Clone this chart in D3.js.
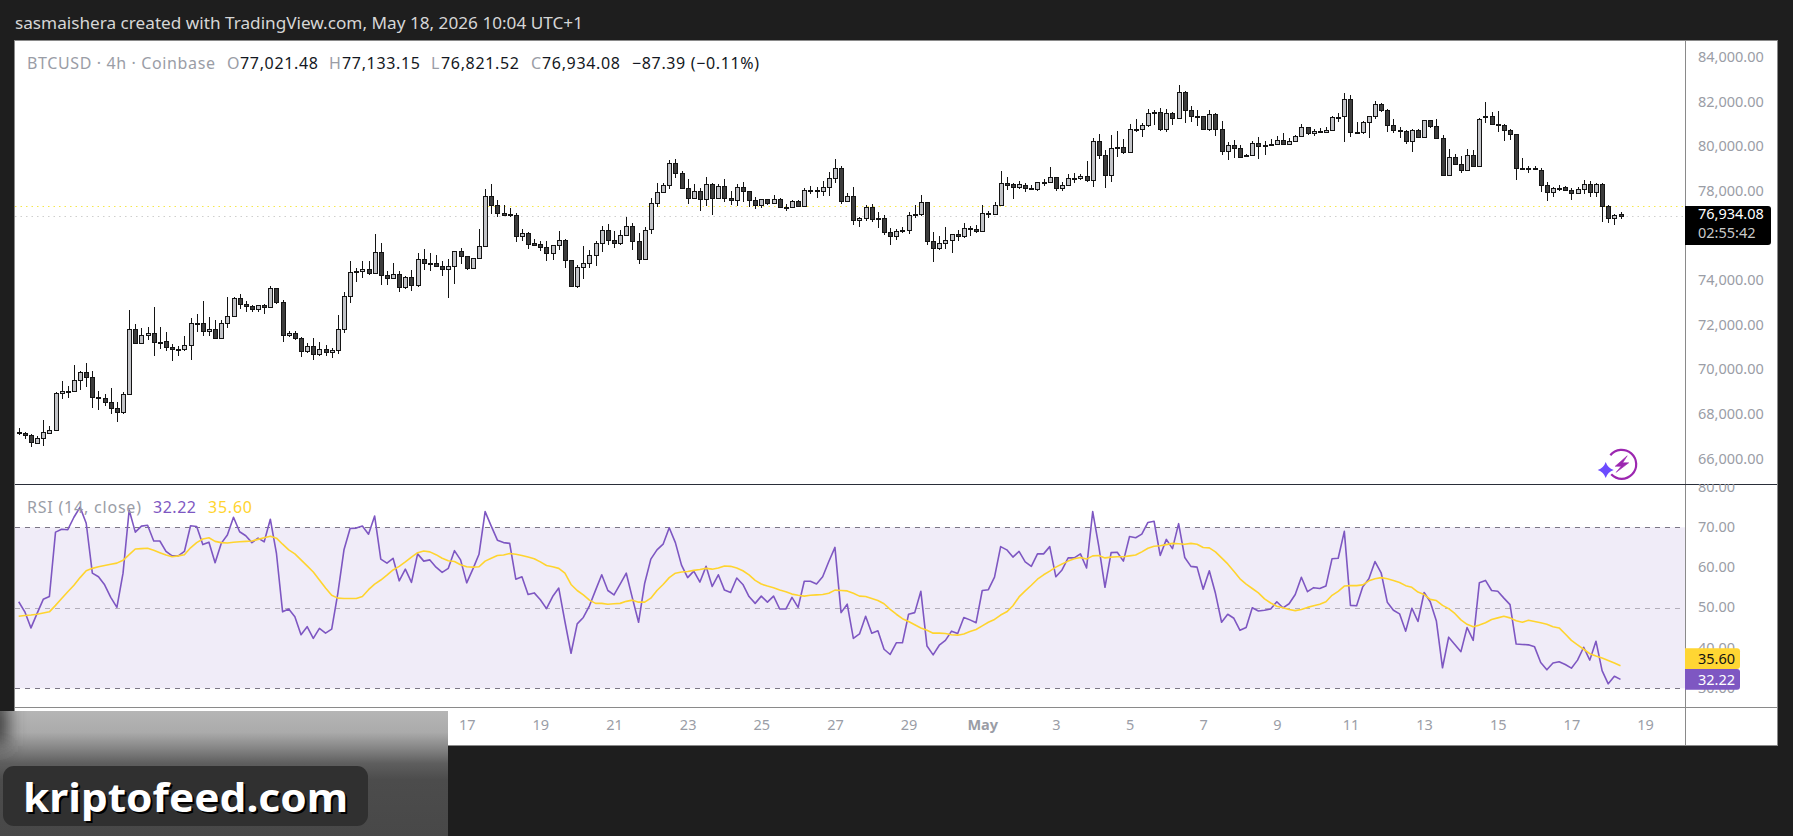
<!DOCTYPE html>
<html><head><meta charset="utf-8">
<style>
html,body{margin:0;padding:0;background:#1e1e1e;overflow:hidden}
svg{display:block}
text{font-family:"Noto Sans",sans-serif}
</style>
<script src="https://cdnjs.cloudflare.com/ajax/libs/d3/7.8.5/d3.min.js"></script>
</head><body>
<svg id="chart" width="1793" height="836"></svg>
<script>
// BTCUSD 4h candles, oldest first
const opens=[
67250,67240,67120,66790,66980,67240,67340,69000,69080,69090,
69580,69940,69720,68830,68780,68600,68330,68150,68960,71870,
71240,71600,71690,71300,71330,71060,70970,70970,71150,72130,
72140,71780,71870,71460,72140,72450,73260,72990,72900,72760,
72940,72850,73710,73080,71600,71690,71460,70880,71110,70750,
70970,70840,70930,71870,73350,74430,74470,74560,74380,75320,
74290,74150,74330,73750,74200,73840,75000,74830,74860,74690,
74560,74690,75360,75140,74600,75050,75590,77830,77430,77070,
77010,76980,76040,76170,75720,75710,75540,75270,75630,75860,
74960,73800,74650,74830,75180,75720,76300,75860,75720,76080,
76480,75810,75010,76350,77520,78010,78320,79310,78860,78190,
77740,78050,77690,78370,77740,78280,77740,77650,78230,78050,
77650,77430,77690,77520,77690,77340,77340,77600,77380,78090,
78100,78050,78230,78640,79080,77600,77830,76750,76840,77340,
76840,76840,76220,76040,76290,76300,76980,77020,77560,75840,
75500,75720,75860,76130,76040,76400,76350,76260,77060,77050,
77420,78410,78370,78230,78350,78190,78140,78450,78460,78680,
78190,78320,78630,78640,78730,78550,80290,79670,78770,79980,
80030,79830,80830,80830,81010,81590,81590,80860,81550,81320,
82490,81680,81420,81410,80830,81500,80830,79850,80120,79980,
79650,79670,80200,80120,80150,80160,80340,80190,80290,80520,
80920,80650,80750,80700,80790,81380,81410,82180,80690,80700,
81150,81410,81950,81680,81010,80790,80740,80290,80790,80470,
81240,80970,80430,78770,79580,79260,78990,79670,79170,81420,
81410,81060,81010,80790,80610,79080,79080,79080,78990,78320,
78010,78200,78230,78100,77960,78140,78370,78010,78370,77380,
76840,77021.48];
const highs=[
67430,67280,67180,67100,67800,67530,69070,69550,69330,70270,
69990,70360,70000,69100,68970,69240,68600,69040,72730,72110,
71910,71960,72850,71970,71730,71210,71120,71570,72360,72540,
73120,72410,72270,72270,73300,73330,73440,73120,72960,72940,
73000,73800,73740,73170,71780,71780,71510,71240,71460,71290,
71150,71020,72510,73530,74930,74620,74930,74930,76140,75740,
74470,74840,74470,74240,74530,75270,75470,75270,75200,74930,
75020,75390,75500,75140,75070,76370,78140,78370,77670,77430,
77290,77070,76370,76220,75900,75840,75830,75630,76260,75920,
74960,74740,75600,75410,75810,76480,76570,76280,76300,76900,
76620,76170,76440,77740,78410,78440,79440,79500,78950,78590,
78370,78190,78680,78410,78370,78590,78070,78370,78470,78050,
77780,77690,77690,77890,77740,77470,77650,77650,78190,78280,
78230,78520,78920,79500,79170,77960,78230,76890,77430,77470,
77110,76980,76400,76350,76440,77110,77420,77870,77560,76220,
76040,76440,76130,76310,76620,76480,76530,77420,77170,77560,
78950,78680,78440,78500,78410,78350,78470,78590,79130,78710,
78460,78830,78880,78820,79400,80430,80610,79900,80560,80740,
80380,81060,81280,81100,81730,81680,81770,81730,81620,82820,
82550,81860,81680,81440,81680,81550,81190,80250,80340,80120,
79730,80290,80470,80290,80380,80530,80650,80430,80560,81060,
80920,80830,80880,80920,81410,81550,82460,82360,81150,81190,
81410,82090,82030,81730,81280,80950,80800,80830,80830,81240,
81240,81280,80560,79930,79710,79620,79930,79890,81320,82040,
81590,81640,81060,80830,80610,79530,79170,79170,79080,78460,
78260,78340,78280,78190,78230,78550,78500,78410,78410,77430,
77020,77133.15];
const lows=[
67130,66970,66610,66790,66650,67160,67340,68760,68800,69090,
69150,69300,68360,68270,68450,68090,67730,68090,68960,71240,
71240,71390,70690,71000,70910,70460,70690,70880,70510,71750,
71580,71580,71460,71460,71910,72450,72790,72660,72650,72660,
72570,72850,72990,71310,71510,71400,70640,70820,70510,70660,
70690,70600,70780,71720,73060,74000,74170,74320,74330,73860,
73860,74150,73540,73690,73590,73780,74530,74500,74650,74260,
73290,73920,74810,74540,74600,75050,75590,77050,76920,77000,
76900,75800,75840,75480,75620,75390,74950,74990,75420,74630,
73800,73740,74140,74630,74720,75350,75660,75530,75650,76080,
75420,74800,75010,76160,77350,77980,78140,78650,78190,77490,
77740,77170,77400,77010,77690,77580,77440,77400,77590,77370,
77260,77320,77440,77520,77320,77190,77340,77340,77370,77930,
77750,77840,77840,78440,77500,77600,76540,76450,76740,76690,
76410,76110,75650,75870,76200,76160,76870,76960,75650,74900,
75440,75480,75300,75840,75980,76070,76170,76240,76870,76990,
77410,78110,77720,78170,78040,78100,78080,78310,78460,78080,
78080,78320,78410,78560,78490,78260,79490,78220,78490,79610,
79740,79800,80710,80500,80950,81030,80770,80730,81030,81310,
81130,81180,81000,80830,80740,80550,79680,79470,79560,79580,
79610,79670,79520,79700,80090,80130,80140,80140,80250,80470,
80590,80550,80650,80700,80790,81150,80280,80500,80650,80610,
80430,81310,81610,80710,80650,80460,80160,79830,80430,80430,
80880,80430,78770,78720,79220,78890,78950,79170,79170,81100,
81060,80730,80320,80370,78580,79020,78890,78990,78040,77630,
77810,78070,78070,77660,77950,77950,77810,77810,76690,76630,
76540,76821.52];
const closes=[
67240,67120,66800,66980,67250,67340,69000,69090,69100,69580,
69940,69720,68820,68780,68600,68330,68150,68960,71870,71240,
71600,71690,71290,71320,71060,70970,70990,71150,72140,72140,
71780,71870,71460,72140,72450,73260,72990,72900,72760,72940,
72850,73710,73080,71600,71690,71460,70880,71110,70750,70970,
70840,70930,71870,73350,74420,74480,74560,74380,75320,74290,
74150,74330,73750,74200,73840,75000,74830,74860,74690,74560,
74690,75360,75140,74600,75050,75590,77830,77430,77070,77010,
77040,76040,76170,75680,75660,75540,75270,75630,75860,74960,
73800,74650,74830,75180,75720,76300,75860,75720,76080,76480,
75810,75010,76300,77520,78010,78320,79310,78860,78190,77740,
78050,77690,78370,77740,78280,77740,77650,78230,78050,77650,
77430,77690,77520,77690,77340,77350,77600,77380,78100,78100,
78110,78230,78640,79080,77600,77830,76750,76840,77340,76800,
76800,76220,76040,76290,76300,76980,77020,77560,75840,75500,
75720,75860,76130,76040,76400,76350,76260,77070,77040,77420,
78410,78350,78230,78370,78190,78140,78460,78460,78680,78190,
78320,78640,78640,78730,78550,80290,79670,78770,79980,80030,
79830,80830,80810,81010,81550,81550,80860,81550,81320,82490,
81680,81410,81410,80830,81500,80830,79850,80120,79980,79580,
79680,80200,80100,80130,80160,80340,80190,80290,80520,80920,
80650,80740,80760,80790,81370,81400,82180,80700,80700,81150,
81410,81950,81680,81010,80790,80740,80290,80790,80470,81240,
80970,80430,78770,79580,79260,78990,79670,79170,81280,81430,
81060,81070,80790,80610,79080,79090,79090,79090,78320,78010,
78190,78220,78100,77960,78140,78370,78010,78370,77380,76840,
76980,76934.08];

// RSI(14) and its moving average, one value per candle
const rsiValues=[
51.5,49.0,45.0,48.6,52.1,52.8,68.8,69.5,69.4,72.5,
75.0,71.0,58.6,57.7,55.7,52.6,50.1,58.6,74.3,68.8,
70.3,70.5,66.6,66.6,64.0,62.9,62.9,64.0,70.4,70.2,
65.7,66.3,61.2,66.0,68.1,72.5,68.9,67.9,66.2,67.3,
66.4,72.0,63.5,49.0,49.7,47.8,43.3,45.3,42.4,44.9,
43.7,44.7,53.6,64.4,69.7,69.8,70.3,68.3,72.8,62.1,
61.1,62.3,56.7,59.6,56.3,63.4,61.6,61.9,60.1,58.8,
59.8,64.2,61.9,56.2,59.6,63.3,73.9,70.3,66.8,66.2,
66.0,57.1,57.7,53.3,53.7,52.0,49.8,52.8,54.9,46.6,
38.7,46.0,47.6,50.5,54.4,58.2,54.3,53.2,55.9,58.6,
52.4,46.4,56.1,62.1,64.4,65.8,69.9,66.2,60.6,57.5,
59.1,56.4,60.3,55.3,58.2,54.4,53.8,57.4,55.8,52.8,
51.1,52.9,51.4,52.9,49.7,49.7,52.6,50.1,56.6,56.6,
55.9,57.7,61.5,65.0,48.8,50.9,42.4,43.5,47.9,43.7,
44.3,39.7,38.4,41.3,41.3,48.4,48.8,54.1,40.5,38.3,
40.7,41.9,44.2,43.6,47.6,47.0,46.3,54.3,54.5,57.6,
65.2,64.4,62.6,64.0,61.4,60.3,63.4,63.4,65.2,57.7,
59.4,62.4,62.4,63.4,59.9,73.9,65.2,55.1,63.7,63.8,
61.6,67.7,67.4,68.3,71.2,71.5,63.0,67.0,64.7,70.9,
62.5,60.3,60.1,54.6,59.2,53.6,46.4,48.4,47.4,44.4,
45.1,50.0,49.2,49.4,49.7,51.5,50.0,51.0,53.3,57.6,
54.0,55.0,54.8,55.4,62.2,62.3,69.0,50.6,50.5,55.2,
57.2,61.5,58.7,51.4,49.4,48.5,44.2,49.9,46.6,53.8,
51.5,46.7,35.1,42.7,40.9,39.1,45.1,41.9,56.2,56.8,
54.3,54.1,52.4,50.8,41.0,40.9,40.8,40.3,36.4,34.6,
36.3,36.6,35.9,35.0,37.0,40.2,37.0,41.7,34.4,31.1,
33.0,32.22];
const rsiAverage=[
47.9,48.1,48.2,48.4,48.7,49.0,50.6,52.3,54.0,55.6,
57.5,59.2,59.8,60.2,60.5,60.8,61.1,61.8,63.2,64.6,
64.7,64.8,64.3,63.7,63.1,62.7,62.9,63.2,64.9,66.2,
67.1,67.4,66.5,66.2,66.1,66.3,66.4,66.5,66.6,67.0,
67.4,67.8,67.3,65.8,64.4,63.4,61.9,60.4,58.9,56.9,
54.9,53.1,52.4,52.3,52.3,52.3,52.8,54.5,55.9,56.9,
58.1,59.4,60.3,61.4,62.6,63.7,64.1,63.9,63.2,62.3,
61.7,61.5,60.7,60.2,60.1,60.2,61.6,62.3,63.0,63.1,
63.5,63.3,63.0,62.6,62.2,61.4,60.5,60.2,59.8,58.6,
55.8,54.3,53.2,51.9,51.1,51.1,50.9,51.0,51.1,51.6,
51.9,51.4,51.4,52.4,54.3,55.8,57.5,58.6,58.9,59.0,
59.3,59.5,59.8,59.6,59.9,60.4,60.3,59.9,59.2,58.2,
56.8,55.9,55.4,55.0,54.4,54.0,53.4,53.1,52.9,53.1,
53.2,53.3,53.6,54.4,54.3,54.2,53.6,52.9,52.8,52.3,
51.8,51.0,49.6,48.4,47.3,46.6,45.8,45.0,44.4,43.7,
43.7,43.6,43.3,43.2,43.5,44.1,44.6,45.5,46.4,47.1,
48.2,49.0,50.5,52.7,54.2,55.6,57.1,58.2,59.1,60.1,
60.9,61.6,62.2,62.5,62.1,62.9,63.0,62.4,62.6,62.7,
62.7,62.9,63.1,63.9,64.8,65.3,65.4,65.7,66.0,65.9,
65.8,66.0,65.8,65.0,64.9,63.9,62.4,60.9,59.1,57.2,
55.9,54.8,53.7,52.2,51.2,50.4,50.0,49.6,49.3,49.6,
50.1,50.5,50.9,51.5,53.1,54.1,55.4,55.5,55.5,55.7,
56.7,57.2,57.5,57.2,56.8,56.3,55.5,55.1,53.9,53.3,
52.1,51.8,50.6,49.8,48.6,47.0,45.9,45.3,45.7,46.3,
47.1,47.5,47.9,47.5,46.8,46.4,46.9,46.6,46.3,45.9,
45.3,45.0,43.5,41.9,40.8,39.7,38.6,38.0,37.5,36.9,
36.3,35.6];

// 76,000 sits behind the last-price tag, so it is left out of the scale labels
const priceTicks=[66000,68000,70000,72000,74000,78000,80000,82000,84000];
const rsiTicks=[30,40,50,60,70,80];
const rsiGuides=[70,50,30];
const dayTicks=[[3,17,"17"],[3,19,"19"],[3,21,"21"],[3,23,"23"],[3,25,"25"],[3,27,"27"],[3,29,"29"],
  [4,1,"May"],[4,3,"3"],[4,5,"5"],[4,7,"7"],[4,9,"9"],[4,11,"11"],[4,13,"13"],[4,15,"15"],[4,17,"17"],[4,19,"19"]];
const lastClose=76934.08, lastRsi=32.22, lastAvg=35.60, priorOpenLevel=77380;

const HOUR=3600e3, t0=Date.UTC(2026,3,4,20);
const timeOf=i=>new Date(t0+i*4*HOUR);

const x=d3.scaleUtc().domain([timeOf(0),timeOf(261)]).range([18.7,1620.5]);
const yPrice=d3.scaleLinear().domain([66000,84000]).range([460.25,58.65]);
const yRsi=d3.scaleLinear().domain([30,70]).range([688.3,527.3]);

const svg=d3.select("#chart");
const defs=svg.append("defs");

const W={left:15,right:1777,top:41,bottom:745,axis:1685,divider:484,timeTop:707};
const GREY="#9a9da6", BORDER="#8a8a8a";

// frame
svg.append("text").attr("x",15).attr("y",28.5).attr("fill","#d6d6d6").attr("font-size",16.5)
  .attr("textLength",568).attr("lengthAdjust","spacingAndGlyphs")
  .text("sasmaishera created with TradingView.com, May 18, 2026 10:04 UTC+1");
svg.append("rect").attr("x",W.left).attr("y",W.top).attr("width",W.right-W.left).attr("height",W.bottom-W.top)
  .attr("fill","#fff");

defs.append("clipPath").attr("id","pricePane").append("rect").attr("x",W.left).attr("y",W.top).attr("width",W.axis-W.left).attr("height",W.divider-W.top);
defs.append("clipPath").attr("id","rsiPane").append("rect").attr("x",W.left).attr("y",W.divider).attr("width",W.axis-W.left).attr("height",W.timeTop-W.divider);
defs.append("clipPath").attr("id","rsiAxisPane").append("rect").attr("x",W.axis).attr("y",W.divider).attr("width",W.right-W.axis).attr("height",W.timeTop-W.divider);

// price pane: last-bar reference levels and candles
const pricePane=svg.append("g").attr("clip-path","url(#pricePane)");
[[priorOpenLevel,"#f6e84a"],[lastClose,"#cfcfcf"]].forEach(([v,c])=>{
  pricePane.append("line").attr("x1",W.left).attr("x2",W.axis)
    .attr("y1",Math.round(yPrice(v))+.5).attr("y2",Math.round(yPrice(v))+.5)
    .attr("stroke",c).attr("stroke-width",1).attr("stroke-dasharray","1.5 4");
});
const candles=d3.range(opens.length).map(i=>({t:timeOf(i),o:opens[i],h:highs[i],l:lows[i],c:closes[i]}));
const cx=d=>Math.round(x(d.t));
const cg=pricePane.append("g").attr("shape-rendering","crispEdges");
cg.selectAll("line.wick").data(candles).join("line").attr("class","wick")
  .attr("x1",d=>cx(d)+.5).attr("x2",d=>cx(d)+.5)
  .attr("y1",d=>Math.round(yPrice(d.h))).attr("y2",d=>Math.round(yPrice(d.l)))
  .attr("stroke","#141414");
cg.selectAll("rect.body").data(candles).join("rect").attr("class","body")
  .attr("x",d=>cx(d)-1.5).attr("width",4)
  .attr("y",d=>Math.round(yPrice(Math.max(d.o,d.c)))+.5)
  .attr("height",d=>Math.max(1,Math.round(yPrice(Math.min(d.o,d.c)))-Math.round(yPrice(Math.max(d.o,d.c)))))
  .attr("fill",d=>d.c>=d.o?"#c2c3c7":"#3c3c3c").attr("stroke","#141414").attr("stroke-width",1);

// RSI pane
const rsiPane=svg.append("g").attr("clip-path","url(#rsiPane)");
rsiPane.append("rect").attr("x",W.left).attr("width",W.axis-W.left)
  .attr("y",yRsi(70)).attr("height",yRsi(30)-yRsi(70)).attr("fill","#f0ecf8");
rsiGuides.forEach(v=>{
  rsiPane.append("line").attr("x1",W.left).attr("x2",W.axis)
    .attr("y1",Math.round(yRsi(v))+.5).attr("y2",Math.round(yRsi(v))+.5)
    .attr("stroke",v===50?"#b3aeba":"#7b7685").attr("stroke-width",1).attr("stroke-dasharray","5 5");
});
const rsiLine=d3.line().x((d,i)=>x(timeOf(i))).y(d=>yRsi(d));
rsiPane.append("path").attr("d",rsiLine(rsiValues)).attr("fill","none").attr("stroke","#7e57c2").attr("stroke-width",1.6).attr("stroke-linejoin","round");
rsiPane.append("path").attr("d",rsiLine(rsiAverage)).attr("fill","none").attr("stroke","#ffd42e").attr("stroke-width",1.6).attr("stroke-linejoin","round");

// panel rules
const rules=svg.append("g").attr("shape-rendering","crispEdges");
rules.append("line").attr("x1",W.axis+.5).attr("x2",W.axis+.5).attr("y1",W.top).attr("y2",W.bottom).attr("stroke",BORDER);
rules.append("line").attr("x1",W.left).attr("x2",W.right).attr("y1",W.timeTop+.5).attr("y2",W.timeTop+.5).attr("stroke",BORDER);
rules.append("line").attr("x1",W.left).attr("x2",W.right).attr("y1",W.divider+.5).attr("y2",W.divider+.5).attr("stroke","#2a2e39");
rules.append("rect").attr("x",W.left-.5).attr("y",W.top-.5).attr("width",W.right-W.left+1).attr("height",W.bottom-W.top+1).attr("fill","none").attr("stroke",BORDER);

// axes
const styleAxis=(g,size)=>{
  g.select(".domain").remove();
  g.selectAll(".tick line").remove();
  g.selectAll("text").attr("fill",GREY).attr("font-size",size).attr("font-family",'"Noto Sans",sans-serif');
};
svg.append("g").attr("transform",`translate(1698,-1.8)`)
  .call(d3.axisRight(yPrice).tickValues(priceTicks).tickFormat(d3.format(",.2f")).tickSize(0).tickPadding(0))
  .call(styleAxis,14.5);
svg.append("g").attr("clip-path","url(#rsiAxisPane)")
  .append("g").attr("transform","translate(1698,-0.6)")
  .call(d3.axisRight(yRsi).tickValues(rsiTicks).tickFormat(d3.format(".2f")).tickSize(0).tickPadding(0))
  .call(styleAxis,14.5);
const dayDates=dayTicks.map(d=>new Date(Date.UTC(2026,d[0],d[1])));
const dayLabel=new Map(dayDates.map((d,i)=>[+d,dayTicks[i][2]]));
svg.append("g").attr("transform",`translate(0,${W.timeTop+13})`)
  .call(d3.axisBottom(x).tickValues(dayDates).tickFormat(d=>dayLabel.get(+d)).tickSize(0).tickPadding(0))
  .call(styleAxis,14.5)
  .call(g=>g.selectAll("text").attr("font-weight",d=>dayLabel.get(+d)==="May"?700:400));

// tags on the scales
const tag=(yTop,h,w,fill)=>svg.append("path")
  .attr("d",`M${W.axis},${yTop}h${w-3}a3,3 0 0 1 3,3v${h-6}a3,3 0 0 1 -3,3h${-(w-3)}z`).attr("fill",fill);
const tagText=(t,y,fill,size)=>svg.append("text").attr("x",1698).attr("y",y).attr("fill",fill).attr("font-size",size||14.5).text(t);
tag(206,39,86,"#000");
tagText(d3.format(",.2f")(lastClose),219,"#fff");
tagText("02:55:42",238,"#c9c9c9");
tag(648.3,20.7,55,"#ffd633");
tagText(d3.format(".2f")(lastAvg),664,"#141414");
tag(669,20.7,55,"#7e57c2");
tagText(d3.format(".2f")(lastRsi),684.5,"#fff");

// legends
const legend=(xPos,y,t,fill,len)=>{
  const el=svg.append("text").attr("x",xPos).attr("y",y).attr("fill",fill).attr("font-size",16).text(t);
  if(len) el.attr("textLength",len).attr("lengthAdjust","spacing");
};
const legendRows=[
  [27,"BTCUSD · 4h · Coinbase",GREY,188],[227,"O",GREY],[240,"77,021.48","#131722",78],
  [329,"H",GREY],[342,"77,133.15","#131722",78],[431,"L",GREY],[441,"76,821.52","#131722",78],
  [531,"C",GREY],[542,"76,934.08","#131722",78],[632,"−87.39 (−0.11%)","#131722",127]
];
legendRows.forEach(r=>legend(r[0],69,r[1],r[2],r[3]));
legend(27,513,"RSI (14, close)",GREY,114);
legend(153,513,d3.format(".2f")(lastRsi),"#7e57c2",43);
legend(208,513,d3.format(".2f")(lastAvg),"#ffd42e",44);

// spark badge in the corner of the price pane
const badge=svg.append("g").attr("transform","translate(1621.7,464.3)");
badge.append("path").attr("d",d3.arc().innerRadius(13.4).outerRadius(15.6).startAngle(-0.9).endAngle(3.95)()).attr("fill","#9c27b0");
badge.append("path").attr("d","M5.5,-8.5 L-6.5,2 L-0.5,2 L-5.5,8 L7,-1.5 L1,-1.5 Z").attr("fill","#9c27b0").attr("stroke","#9c27b0").attr("stroke-width",.6);
badge.append("path").attr("transform","translate(-16,5.7)")
  .attr("d","M0,-8 Q2,-2 8,0 Q2,2 0,8 Q-2,2 -8,0 Q-2,-2 0,-8Z").attr("fill","#6c4cff");

// site banner across the lower-left corner
const bannerGrad=defs.append("linearGradient").attr("id","bannerFade").attr("x1",0).attr("y1",0).attr("x2",0).attr("y2",1);
[[0,"#b5b5b5"],[.17,"#ababab"],[.3,"#858585"],[.42,"#5e5e5e"],[.55,"#4c4c4c"],[1,"#484848"]]
  .forEach(([o,c])=>bannerGrad.append("stop").attr("offset",o).attr("stop-color",c));
defs.append("filter").attr("id","soft").attr("x","-100%").attr("y","-100%").attr("width","300%").attr("height","300%")
  .append("feGaussianBlur").attr("stdDeviation",9);
defs.append("clipPath").attr("id","bannerClip").append("rect").attr("x",0).attr("y",711).attr("width",448).attr("height",125);
const banner=svg.append("g").attr("clip-path","url(#bannerClip)");
banner.append("rect").attr("x",0).attr("y",711).attr("width",448).attr("height",125).attr("fill","url(#bannerFade)");
banner.append("rect").attr("x",-20).attr("y",700).attr("width",28).attr("height",46).attr("fill","#3c3c3c").attr("filter","url(#soft)");
banner.append("rect").attr("x",3).attr("y",766).attr("width",365).attr("height",60).attr("rx",11).attr("fill","#303030");
const mark=(dx,fill)=>banner.append("text").attr("x",23+dx).attr("y",812+dx)
  .attr("font-family",'"DejaVu Sans",sans-serif').attr("font-weight",700).attr("font-size",39).attr("fill",fill)
  .attr("textLength",325).attr("lengthAdjust","spacingAndGlyphs").text("kriptofeed.com");
mark(2,"#000");
mark(0,"#fff");
</script>
</body></html>
